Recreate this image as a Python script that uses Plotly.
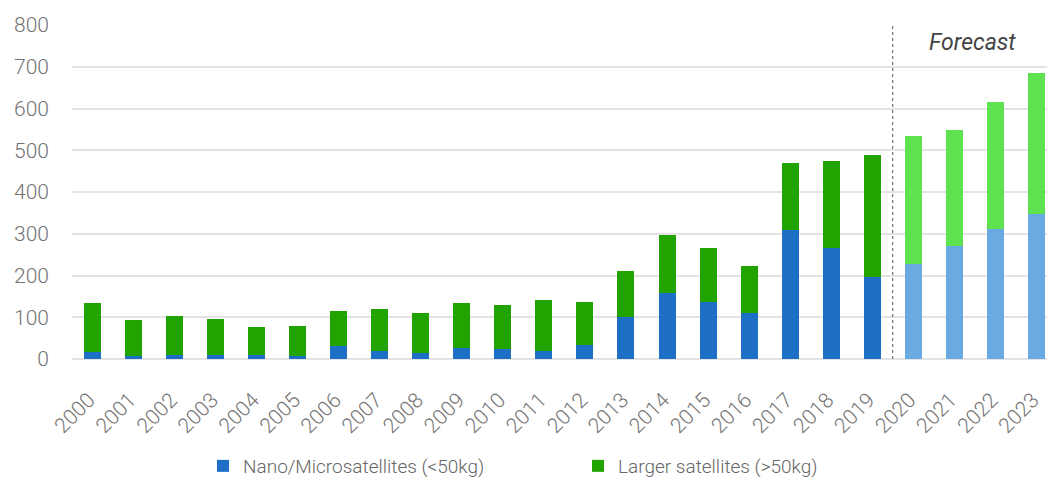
import plotly.graph_objects as go

years = [str(y) for y in range(2000, 2024)]
nano = [17, 8, 10, 10, 10, 7, 30, 18, 15, 27, 24, 18, 33, 100, 159, 136, 110, 310, 266, 196, 228, 271, 311, 348]
total = [133, 93, 102, 96, 76, 79, 116, 119, 110, 133, 130, 142, 136, 211, 298, 266, 222, 469, 475, 489, 533, 549, 616, 685]
larger = [t - n for t, n in zip(total, nano)]
forecast_start = 2020

nano_colors = ["#1c6fc4" if int(y) < forecast_start else "#6aaae3" for y in years]
larger_colors = ["#21a300" if int(y) < forecast_start else "#5fe24f" for y in years]

FONT = "Roboto"
GRAY = "#737373"

fig = go.Figure()
fig.add_trace(go.Bar(x=years, y=nano, name="Nano/Microsatellites (<50kg)",
                     marker=dict(color=nano_colors, line=dict(width=0))))
fig.add_trace(go.Bar(x=years, y=larger, name="Larger satellites (>50kg)",
                     marker=dict(color=larger_colors, line=dict(width=0))))

split = years.index(str(forecast_start)) - 0.5
fig.add_shape(type="line", xref="x", yref="y", x0=split, x1=split, y0=0, y1=800,
              line=dict(color="#555555", width=1, dash="3px,3px"))
fig.add_annotation(x=21.45, y=757, xref="x", yref="y", text="<i>Forecast</i>",
                   showarrow=False, font=dict(family=FONT, size=23, color="#444444"))

fig.update_layout(
    width=1047, height=485,
    margin=dict(l=72, r=0, t=25, b=126),
    barmode="stack", bargap=0.585,
    plot_bgcolor="white", paper_bgcolor="white",
    font=dict(family=FONT, color=GRAY),
    legend=dict(orientation="h", x=(203 - 72) / 975, xanchor="left", y=-0.322, yanchor="middle",
                font=dict(family=FONT, size=19, color="#666666", weight=300),
                itemwidth=30, traceorder="normal", entrywidth=330, entrywidthmode="pixels"),
    xaxis=dict(type="category", range=[-0.5, 23.26], tickangle=-45,
               tickfont=dict(family=FONT, size=21, color=GRAY, weight=300),
               ticksuffix="\u00a0",
               showgrid=False, showline=False, ticks="", ticklabelstandoff=20),
    yaxis=dict(range=[0, 800], dtick=100, showgrid=True, gridcolor="#e3e3e6", gridwidth=2,
               tickfont=dict(family=FONT, size=21, color=GRAY, weight=300),
               zeroline=True, zerolinecolor="#e3e3e6", zerolinewidth=2,
               ticklabelstandoff=22, showline=False),
)

fig.write_html("out.html")
